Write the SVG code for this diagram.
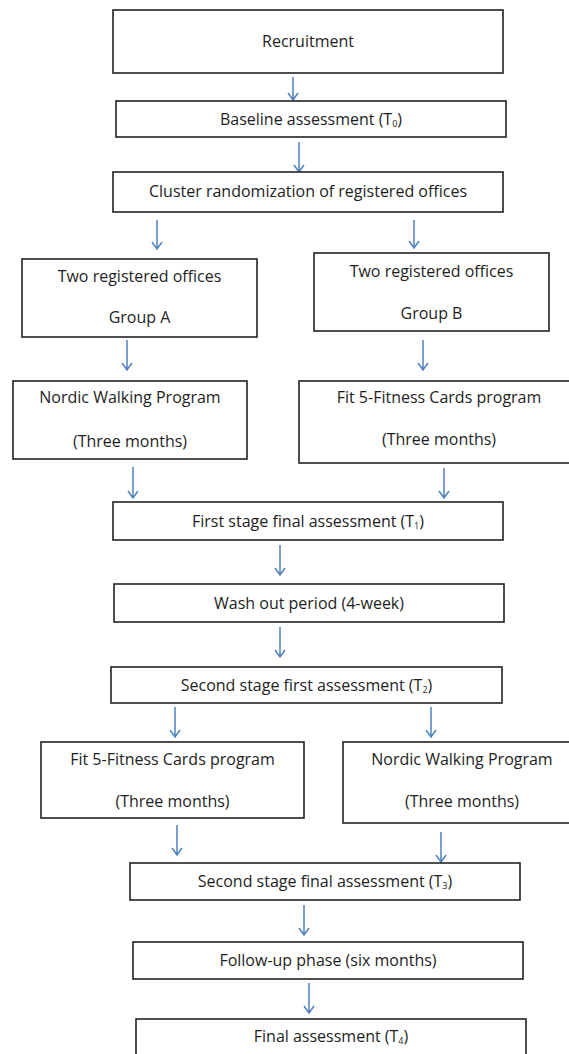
<svg xmlns="http://www.w3.org/2000/svg" width="569" height="1054" viewBox="0 0 569 1054">
<style>
.box{fill:#fff;stroke:#222;stroke-width:1.6}
.t{font-family:"Open Sans","Liberation Sans",sans-serif;font-size:16px;fill:#1e1e1e;text-anchor:middle}
.sub{font-size:9px}
.ar{fill:none;stroke:#4f81bd;stroke-width:1.5;stroke-linejoin:miter}
</style>
<rect width="569" height="1054" fill="#fff"/>
<g id="connectors">
<path class="ar" d="M293,77V100M288,93L293,100L298,93"/>
<path class="ar" d="M299,142V172M294,165L299,172L304,165"/>
<path class="ar" d="M157,220V249M152,242L157,249L162,242"/>
<path class="ar" d="M414,220V248M409,241L414,248L419,241"/>
<path class="ar" d="M127,340V370M122,363L127,370L132,363"/>
<path class="ar" d="M423,340V370M418,363L423,370L428,363"/>
<path class="ar" d="M133,467V498M128,491L133,498L138,491"/>
<path class="ar" d="M444,468V498M439,491L444,498L449,491"/>
<path class="ar" d="M280,545V575M275,568L280,575L285,568"/>
<path class="ar" d="M280,627V657M275,650L280,657L285,650"/>
<path class="ar" d="M175,707V737M170,730L175,737L180,730"/>
<path class="ar" d="M431,707V737M426,730L431,737L436,730"/>
<path class="ar" d="M177,825V855M172,848L177,855L182,848"/>
<path class="ar" d="M441,832V862M436,855L441,862L446,855"/>
<path class="ar" d="M304,905V935M299,928L304,935L309,928"/>
<path class="ar" d="M309,983V1013M304,1006L309,1013L314,1006"/>
</g>
<g id="recruitment"><rect class="box" x="113" y="10" width="390" height="63"/><text class="t" x="308" y="47">Recruitment</text></g>
<g id="baseline"><rect class="box" x="116" y="101" width="390" height="36"/><text class="t" x="311" y="125">Baseline assessment (T<tspan class="sub" dy="2">0</tspan><tspan dy="-2">)</tspan></text></g>
<g id="cluster"><rect class="box" x="113" y="172" width="390" height="40"/><text class="t" x="308" y="197">Cluster randomization of registered offices</text></g>
<g id="groupA"><rect class="box" x="22" y="259" width="235" height="78"/><text class="t" x="139.5" y="282">Two registered offices</text><text class="t" x="139.5" y="323">Group A</text></g>
<g id="groupB"><rect class="box" x="314" y="253" width="235" height="78"/><text class="t" x="431.5" y="277">Two registered offices</text><text class="t" x="431.5" y="319">Group B</text></g>
<g id="nordic1"><rect class="box" x="13" y="381" width="234" height="78"/><text class="t" x="130" y="403">Nordic Walking Program</text><text class="t" x="130" y="447">(Three months)</text></g>
<g id="fit1"><rect class="box" x="299" y="381" width="281" height="82"/><text class="t" x="439" y="403">Fit 5-Fitness Cards program</text><text class="t" x="439" y="445">(Three months)</text></g>
<g id="firststage"><rect class="box" x="113" y="502" width="390" height="38"/><text class="t" x="308" y="527">First stage final assessment (T<tspan class="sub" dy="2">1</tspan><tspan dy="-2">)</tspan></text></g>
<g id="washout"><rect class="box" x="114" y="584" width="390" height="38"/><text class="t" x="309" y="609">Wash out period (4-week)</text></g>
<g id="secondfirst"><rect class="box" x="111" y="667" width="391" height="36"/><text class="t" x="306.5" y="691">Second stage first assessment (T<tspan class="sub" dy="2">2</tspan><tspan dy="-2">)</tspan></text></g>
<g id="fit2"><rect class="box" x="41" y="742" width="263" height="76"/><text class="t" x="172.5" y="765">Fit 5-Fitness Cards program</text><text class="t" x="172.5" y="807">(Three months)</text></g>
<g id="nordic2"><rect class="box" x="343" y="742" width="238" height="81"/><text class="t" x="462" y="765">Nordic Walking Program</text><text class="t" x="462" y="807">(Three months)</text></g>
<g id="secondfinal"><rect class="box" x="130" y="863" width="390" height="37"/><text class="t" x="325" y="887">Second stage final assessment (T<tspan class="sub" dy="2">3</tspan><tspan dy="-2">)</tspan></text></g>
<g id="followup"><rect class="box" x="133" y="942" width="390" height="37"/><text class="t" x="328" y="966">Follow-up phase (six months)</text></g>
<g id="final"><rect class="box" x="136" y="1019" width="390" height="45"/><text class="t" x="331" y="1042">Final assessment (T<tspan class="sub" dy="2">4</tspan><tspan dy="-2">)</tspan></text></g>
</svg>
